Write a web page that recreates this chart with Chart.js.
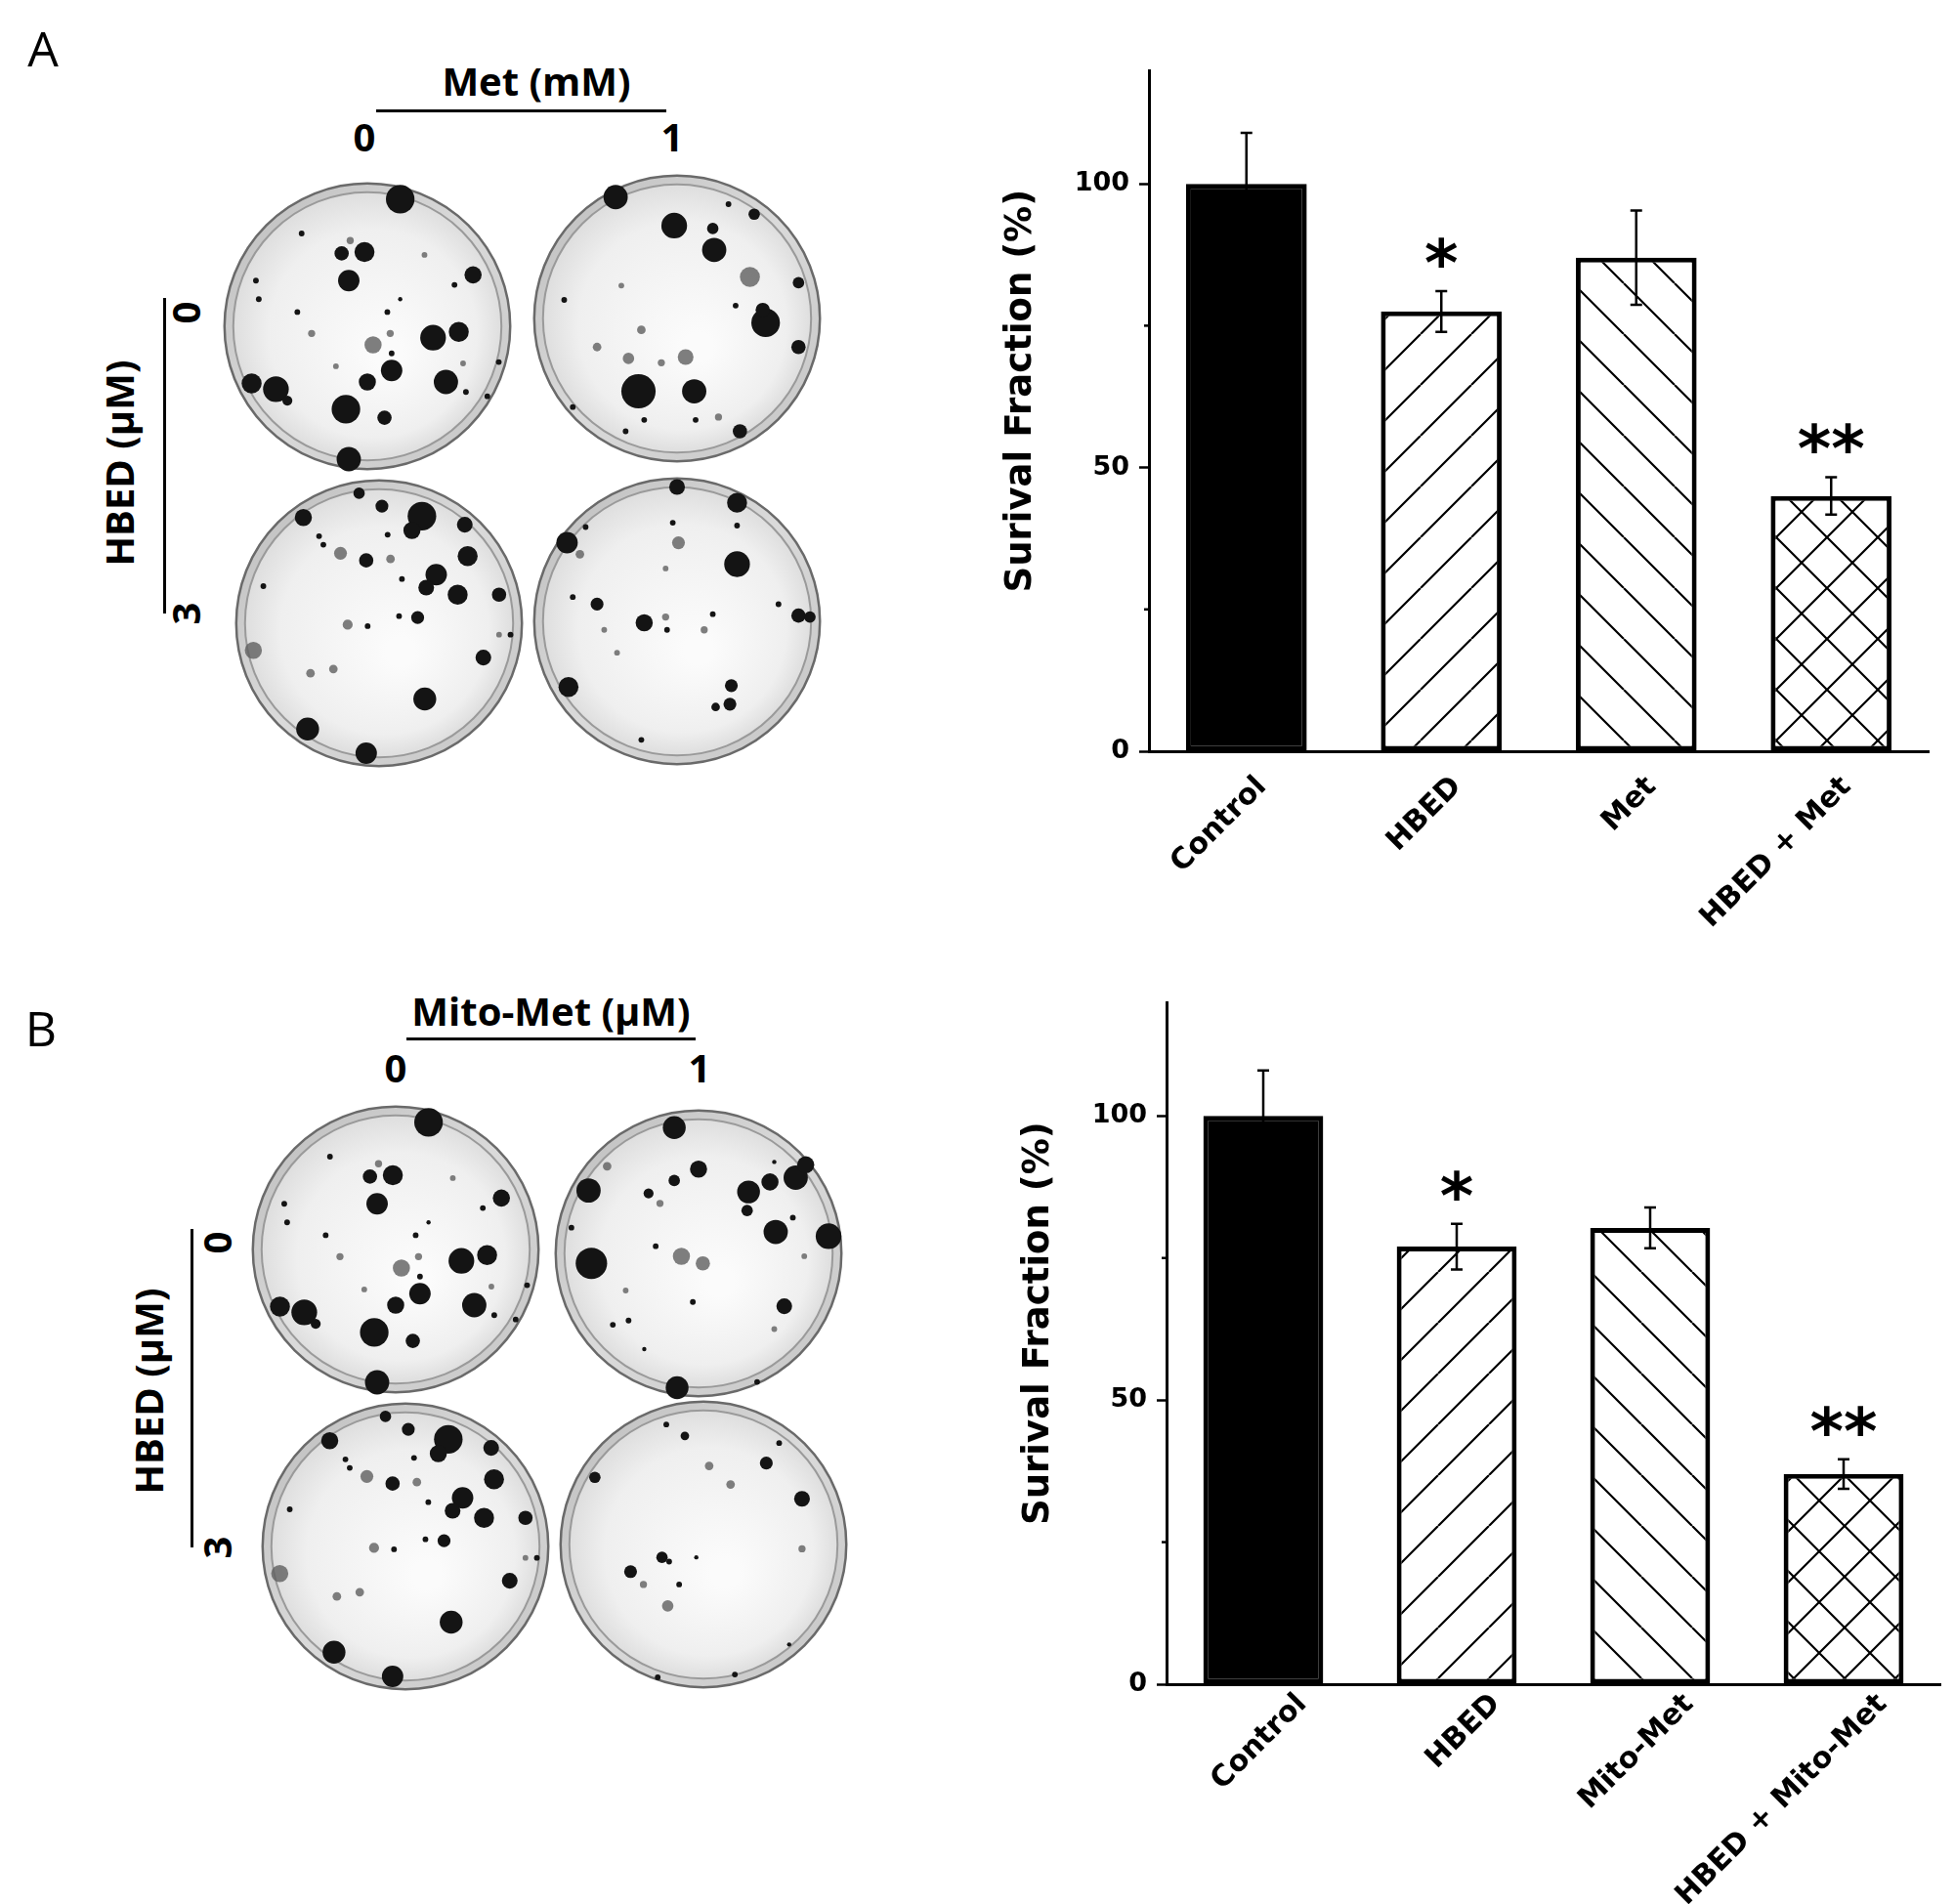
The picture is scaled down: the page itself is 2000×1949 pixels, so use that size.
<!DOCTYPE html>
<html>
<head>
<meta charset="utf-8">
<script src="https://cdn.jsdelivr.net/npm/chart.js@4.4.1/dist/chart.umd.min.js"></script>
<style>
  body { margin: 0; width: 2000px; height: 1949px; background: #fff; position: relative; overflow: hidden; font-family: "Open Sans", sans-serif; }
  canvas { position: absolute; }
  .lbl { position: absolute; font-weight: 700; font-size: 40px; line-height: 1; color: #000; white-space: nowrap; transform: translate(-50%, -50%); }
  .vert { transform: translate(-50%, -50%) rotate(-90deg); }
  .panel { font-weight: 400; font-size: 50px; }
  .rule { position: absolute; background: #000; }
</style>
</head>
<body>
<!-- panel A labels -->
<div class="lbl panel" style="left:44px;top:49px">A</div>
<div class="lbl" style="left:549px;top:83px">Met (mM)</div>
<div class="rule" style="left:385px;top:112px;width:297px;height:3px"></div>
<div class="lbl" style="left:373px;top:140px">0</div>
<div class="lbl" style="left:688px;top:140px">1</div>
<div class="lbl vert" style="left:122px;top:474px">HBED (µM)</div>
<div class="rule" style="left:167px;top:305px;width:3px;height:323px"></div>
<div class="lbl vert" style="left:190px;top:320px">0</div>
<div class="lbl vert" style="left:190px;top:628px">3</div>
<!-- panel B labels -->
<div class="lbl panel" style="left:42px;top:1052px">B</div>
<div class="lbl" style="left:564px;top:1035px">Mito-Met (µM)</div>
<div class="rule" style="left:416px;top:1062px;width:296px;height:3px"></div>
<div class="lbl" style="left:405px;top:1093px">0</div>
<div class="lbl" style="left:716px;top:1093px">1</div>
<div class="lbl vert" style="left:152px;top:1424px">HBED (µM)</div>
<div class="rule" style="left:195px;top:1258px;width:3px;height:326px"></div>
<div class="lbl vert" style="left:222px;top:1272px">0</div>
<div class="lbl vert" style="left:222px;top:1584px">3</div>

<canvas id="dishA1" width="310" height="310" style="left:221px;top:179px"></canvas>
<canvas id="dishA2" width="310" height="310" style="left:538px;top:171px"></canvas>
<canvas id="dishA3" width="310" height="310" style="left:233px;top:483px"></canvas>
<canvas id="dishA4" width="310" height="310" style="left:538px;top:481px"></canvas>
<canvas id="dishB1" width="310" height="310" style="left:250px;top:1124px"></canvas>
<canvas id="dishB2" width="310" height="310" style="left:560px;top:1128px"></canvas>
<canvas id="dishB3" width="310" height="310" style="left:260px;top:1428px"></canvas>
<canvas id="dishB4" width="310" height="310" style="left:565px;top:1426px"></canvas>

<canvas id="chartA" width="1014" height="960" style="left:986px;top:30px"></canvas>
<canvas id="chartB" width="996" height="959" style="left:1004px;top:990px"></canvas>

<script>
// bar chart data
const categoriesA = ['Control', 'HBED', 'Met', 'HBED + Met'];
const survivalA = [100, 77.5, 87, 45];
const errorA = [9, 3.6, 8.3, 3.3];
const marksA = ['', '*', '', '**'];

const categoriesB = ['Control', 'HBED', 'Mito-Met', 'HBED + Mito-Met'];
const survivalB = [100, 77, 80.3, 37];
const errorB = [8, 4, 3.6, 2.6];
const marksB = ['', '*', '', '**'];

const yMajor = [0, 50, 100];
const yMinor = [25, 75];
const yTitle = 'Surival Fraction (%)';

// colonies per dish: [x, y, size] in dish radii, dark and faint
const dishTL = [[0.23,0.89,0.10],[-0.02,0.52,0.07],[-0.18,0.51,0.05],[-0.13,0.32,0.075],[0.74,0.36,0.06],[0.46,-0.08,0.09],[0.64,-0.04,0.07],[0.17,-0.31,0.075],[0,-0.39,0.06],[0.55,-0.39,0.085],[-0.15,-0.58,0.10],[0.12,-0.64,0.05],[-0.64,-0.44,0.09],[-0.81,-0.40,0.07],[-0.13,-0.93,0.085],[-0.56,-0.52,0.035],
  [-0.46,0.65,0.02],[-0.78,0.32,0.02],[-0.76,0.19,0.02],[0.14,0.10,0.02],[0.17,-0.19,0.02],[0.61,0.29,0.02],[-0.49,0.10,0.02],[0.92,-0.25,0.02],[0.69,-0.46,0.02],[0.84,-0.49,0.02],[0.23,0.19,0.015]];
const dishTLFaint = [[0.04,-0.13,0.06],[-0.39,-0.05,0.025],[0.16,-0.05,0.025],[-0.22,-0.28,0.02],[0.67,-0.26,0.02],[-0.12,0.60,0.025],[0.4,0.5,0.02]];

const dishA2 = [[-0.43,0.85,0.085],[-0.02,0.65,0.09],[0.26,0.48,0.085],[0.25,0.63,0.04],[0.62,-0.03,0.10],[0.60,0.06,0.05],[-0.27,-0.51,0.12],[0.12,-0.51,0.085],[0.85,-0.20,0.05],[0.85,0.25,0.04],[0.44,-0.79,0.05],[0.54,0.73,0.04],
  [0.36,0.80,0.02],[0.41,0.09,0.02],[-0.79,0.13,0.02],[-0.73,-0.62,0.02],[-0.23,-0.71,0.02],[0.13,-0.71,0.02],[-0.36,-0.79,0.02]];
const dishA2Faint = [[0.51,0.29,0.07],[0.06,-0.27,0.055],[-0.34,-0.28,0.04],[-0.25,-0.08,0.03],[-0.56,-0.20,0.03],[0.29,-0.69,0.025],[-0.11,-0.31,0.025],[-0.39,0.23,0.02]];

const dishBL = [[0.30,0.75,0.10],[0.23,0.65,0.06],[-0.53,0.74,0.06],[0.60,0.69,0.055],[0.62,0.47,0.07],[0.40,0.34,0.075],[0.33,0.25,0.055],[0.55,0.20,0.07],[0.84,0.20,0.05],[-0.09,0.44,0.05],[0.02,0.82,0.045],[-0.14,0.91,0.04],[0.27,0.04,0.045],[0.73,-0.24,0.055],[0.32,-0.53,0.08],[-0.50,-0.74,0.08],[-0.09,-0.91,0.075],
  [-0.08,-0.02,0.02],[0.14,0.05,0.02],[0.16,0.31,0.02],[-0.81,0.26,0.02],[-0.42,0.61,0.02],[-0.39,0.55,0.02],[0.06,0.62,0.02],[0.92,-0.08,0.02]];
const dishBLFaint = [[-0.88,-0.19,0.06],[-0.27,0.49,0.045],[-0.22,-0.01,0.035],[-0.32,-0.32,0.03],[-0.48,-0.35,0.03],[0.84,-0.08,0.02],[0.08,0.45,0.03]];

const dishA4 = [[0,0.94,0.055],[0.42,0.83,0.07],[0.42,0.40,0.09],[-0.77,0.55,0.075],[-0.23,-0.01,0.06],[-0.56,0.12,0.045],[-0.76,-0.46,0.07],[0.38,-0.45,0.045],[0.37,-0.58,0.045],[0.27,-0.60,0.03],[0.85,0.04,0.05],[0.93,0.03,0.04],
  [-0.64,0.66,0.02],[-0.03,0.69,0.02],[0.42,0.67,0.02],[0.25,0.05,0.02],[-0.07,-0.06,0.02],[-0.73,0.17,0.02],[-0.25,-0.83,0.02],[0.71,0.12,0.02]];
const dishA4Faint = [[0.01,0.55,0.045],[-0.68,0.47,0.03],[-0.08,0.03,0.025],[0.19,-0.06,0.025],[-0.42,-0.22,0.02],[-0.51,-0.06,0.02],[-0.08,0.37,0.02]];

const dishB2 = [[-0.17,0.88,0.08],[0,0.59,0.06],[-0.77,0.44,0.085],[-0.75,-0.07,0.11],[0.35,0.43,0.08],[0.50,0.50,0.06],[0.68,0.53,0.085],[0.75,0.62,0.06],[0.54,0.15,0.085],[0.91,0.12,0.09],[0.34,0.30,0.04],[0.60,-0.37,0.055],[-0.17,0.51,0.04],[-0.35,0.42,0.035],[-0.15,-0.94,0.08],
  [-0.30,0.05,0.02],[-0.04,-0.34,0.02],[-0.60,-0.50,0.02],[-0.49,-0.47,0.02],[-0.89,0.18,0.02],[0.41,-0.90,0.02],[0.66,0.25,0.02],[-0.38,-0.67,0.015],[0.53,0.64,0.015]];
const dishB2Faint = [[-0.12,-0.02,0.06],[0.03,-0.07,0.05],[-0.64,0.61,0.03],[-0.27,0.35,0.025],[-0.51,-0.26,0.02],[0.74,-0.02,0.02],[0.53,-0.53,0.02]];

const dishB4 = [[0.44,0.57,0.045],[0.69,0.32,0.055],[-0.76,0.47,0.04],[-0.51,-0.19,0.045],[-0.29,-0.09,0.04],[-0.13,0.76,0.03],
  [-0.26,0.84,0.02],[0.53,0.71,0.02],[-0.17,-0.28,0.02],[-0.05,-0.09,0.015],[-0.24,-0.12,0.02],[-0.32,-0.93,0.02],[0.22,-0.91,0.02],[0.60,-0.70,0.015]];
const dishB4Faint = [[-0.25,-0.43,0.04],[0.04,0.55,0.03],[0.19,0.42,0.03],[0.69,-0.03,0.025],[-0.42,-0.28,0.025]];

document.addEventListener('DOMContentLoaded', function () {
    Chart.defaults.devicePixelRatio = 1;
    Chart.defaults.animation = false;
    Chart.defaults.color = '#000';

    const boldFont = '"DejaVu Sans", sans-serif';

    function hatch(kind) {
        const s = 52;
        const tile = document.createElement('canvas');
        tile.width = tile.height = s;
        const g = tile.getContext('2d');
        g.fillStyle = '#fff';
        g.fillRect(0, 0, s, s);
        g.strokeStyle = '#000';
        g.lineWidth = 2.2;
        g.beginPath();
        for (const k of [-s, 0, s]) {
            if (kind === '/' || kind === 'x') { g.moveTo(k, s); g.lineTo(k + s, 0); }
            if (kind === '\\' || kind === 'x') { g.moveTo(k, 0); g.lineTo(k + s, s); }
        }
        g.stroke();
        return g.createPattern(tile, 'repeat');
    }

    // error bars and significance stars
    const errorBars = {
        id: 'errorBars',
        afterDatasetsDraw(chart, args, opts) {
            const ctx = chart.ctx;
            const y = chart.scales.y;
            const bars = chart.getDatasetMeta(0).data;
            const values = chart.data.datasets[0].data;
            ctx.save();
            ctx.strokeStyle = '#000';
            ctx.lineWidth = 2.5;
            bars.forEach((bar, i) => {
                const top = y.getPixelForValue(values[i] + opts.errors[i]);
                const bottom = y.getPixelForValue(values[i] - opts.errors[i]);
                ctx.beginPath();
                ctx.moveTo(bar.x, top); ctx.lineTo(bar.x, bottom);
                ctx.moveTo(bar.x - 6, top); ctx.lineTo(bar.x + 6, top);
                ctx.moveTo(bar.x - 6, bottom); ctx.lineTo(bar.x + 6, bottom);
                ctx.stroke();
                if (opts.marks[i]) {
                    ctx.fillStyle = '#000';
                    ctx.font = 'bold 66px ' + boldFont;
                    ctx.textAlign = 'center';
                    ctx.textBaseline = 'alphabetic';
                    ctx.fillText(opts.marks[i], bar.x, top - 6);
                }
            });
            ctx.restore();
        }
    };

    // minor ticks and rotated y title
    const axisExtras = {
        id: 'axisExtras',
        afterDraw(chart) {
            const ctx = chart.ctx;
            const y = chart.scales.y;
            const left = chart.chartArea.left;
            ctx.save();
            ctx.strokeStyle = '#000';
            ctx.lineWidth = 2.5;
            yMinor.forEach(v => {
                const py = y.getPixelForValue(v);
                ctx.beginPath();
                ctx.moveTo(left - 5, py); ctx.lineTo(left, py);
                ctx.stroke();
            });
            ctx.translate(left - 131, y.getPixelForValue(63.5));
            ctx.rotate(-Math.PI / 2);
            ctx.fillStyle = '#000';
            ctx.font = 'bold 37px ' + boldFont;
            ctx.textAlign = 'center';
            ctx.textBaseline = 'middle';
            ctx.fillText(yTitle, 0, 0);
            ctx.restore();
        }
    };

    function barChart(id, labels, values, errors, marks, pad, axisHeight, shift, gap) {
        new Chart(document.getElementById(id), {
            type: 'bar',
            data: {
                labels: labels,
                datasets: [{
                    data: values,
                    backgroundColor: ['#000', hatch('/'), hatch('\\'), hatch('x')],
                    borderColor: '#000',
                    borderWidth: 5,
                    borderSkipped: false,
                    barPercentage: 0.62,
                    categoryPercentage: 1,
                }],
            },
            options: {
                responsive: false,
                layout: { padding: pad },
                plugins: {
                    legend: { display: false },
                    tooltip: { enabled: false },
                    errorBars: { errors: errors, marks: marks },
                },
                scales: {
                    x: {
                        grid: { display: false },
                        border: { display: true, color: '#000', width: 3 },
                        ticks: {
                            color: '#000',
                            font: { family: boldFont, weight: 'bold', size: 30 },
                            maxRotation: 45,
                            minRotation: 45,
                            autoSkip: false,
                            padding: gap,
                            labelOffset: shift,
                        },
                        afterFit(scale) { scale.height = axisHeight; },
                    },
                    y: {
                        min: 0,
                        max: 120,
                        grid: { drawOnChartArea: false, drawTicks: true, tickLength: 10, tickWidth: 2.5, tickColor: '#000' },
                        border: { display: true, color: '#000', width: 3 },
                        ticks: {
                            stepSize: 50,
                            includeBounds: false,
                            color: '#000',
                            padding: 10,
                            font: { family: boldFont, weight: 'bold', size: 27 },
                            callback: v => (yMajor.includes(v) ? v : ''),
                        },
                        afterFit(scale) { scale.width = 190; },
                    },
                },
            },
            plugins: [errorBars, axisExtras],
        });
    }

    barChart('chartA', categoriesA, survivalA, errorA, marksA, { top: 42, right: 26, left: 0, bottom: 0 }, 221, 16, 11);
    barChart('chartB', categoriesB, survivalB, errorB, marksB, { top: 36, right: 14, left: 0, bottom: 0 }, 225, 40, -5);

    // petri dish outline
    const dishPlate = {
        id: 'dishPlate',
        beforeDatasetsDraw(chart) {
            const ctx = chart.ctx;
            const cx = chart.scales.x.getPixelForValue(0);
            const cy = chart.scales.y.getPixelForValue(0);
            const R = chart.scales.x.getPixelForValue(1) - cx;
            ctx.save();
            const rim = ctx.createLinearGradient(cx - R, cy - R, cx + R, cy + R);
            rim.addColorStop(0, '#bcbcbc');
            rim.addColorStop(0.5, '#dadada');
            rim.addColorStop(1, '#c4c4c4');
            ctx.beginPath();
            ctx.arc(cx, cy, R, 0, Math.PI * 2);
            ctx.fillStyle = rim;
            ctx.fill();
            ctx.lineWidth = 2.5;
            ctx.strokeStyle = '#6a6a6a';
            ctx.stroke();
            const inner = ctx.createRadialGradient(cx + R * 0.15, cy + R * 0.2, R * 0.1, cx, cy, R - 9);
            inner.addColorStop(0, '#fbfbfb');
            inner.addColorStop(0.75, '#efefef');
            inner.addColorStop(1, '#dedede');
            ctx.beginPath();
            ctx.arc(cx, cy, R - 9, 0, Math.PI * 2);
            ctx.fillStyle = inner;
            ctx.fill();
            ctx.lineWidth = 2;
            ctx.strokeStyle = '#9a9a9a';
            ctx.stroke();
            ctx.restore();
        }
    };

    function dish(id, dark, faint) {
        const toPoints = list => list.map(c => ({ x: c[0], y: c[1], s: c[2] }));
        const radius = ctx => (ctx.raw ? ctx.raw.s * ctx.chart.width / 2 / 1.06 : 0);
        new Chart(document.getElementById(id), {
            type: 'scatter',
            data: {
                datasets: [
                    { data: toPoints(faint), backgroundColor: 'rgba(95,95,95,0.8)', borderWidth: 0, pointRadius: radius, pointHoverRadius: radius, clip: false },
                    { data: toPoints(dark), backgroundColor: '#141414', borderWidth: 0, pointRadius: radius, pointHoverRadius: radius, clip: false },
                ],
            },
            options: {
                responsive: false,
                events: [],
                layout: { padding: 0, autoPadding: false },
                plugins: { legend: { display: false }, tooltip: { enabled: false } },
                scales: {
                    x: { display: false, min: -1.06, max: 1.06 },
                    y: { display: false, min: -1.06, max: 1.06 },
                },
            },
            plugins: [dishPlate],
        });
    }

    dish('dishA1', dishTL, dishTLFaint);
    dish('dishA2', dishA2, dishA2Faint);
    dish('dishA3', dishBL, dishBLFaint);
    dish('dishA4', dishA4, dishA4Faint);
    dish('dishB1', dishTL, dishTLFaint);
    dish('dishB2', dishB2, dishB2Faint);
    dish('dishB3', dishBL, dishBLFaint);
    dish('dishB4', dishB4, dishB4Faint);
});
</script>
</body>
</html>
